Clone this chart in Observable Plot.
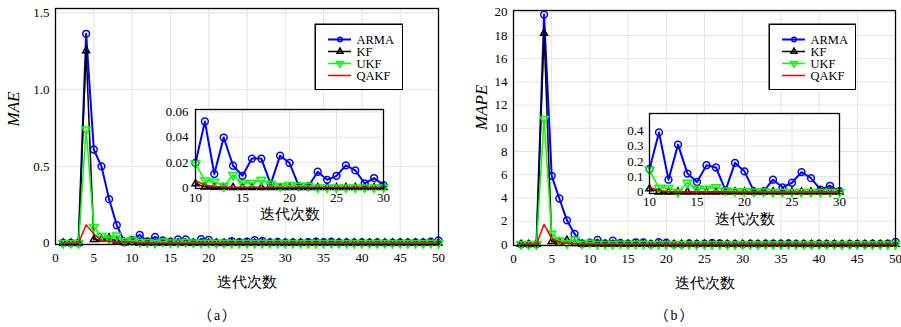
<!DOCTYPE html>
<html><head><meta charset="utf-8">
<script src="https://cdn.jsdelivr.net/npm/d3@7"></script>
<script src="https://cdn.jsdelivr.net/npm/@observablehq/plot@0.6"></script>
<style>
body{margin:0;background:#fff;}
#wrap{position:relative;width:901px;height:327px;overflow:hidden;background:#fff;}
#wrap > div{position:absolute;}
#wrap svg text{font-family:"Liberation Serif",serif;}
#wrap svg text.cjk{font-family:"Noto Sans CJK SC",sans-serif;}
.cap{font-family:"Liberation Serif","Noto Sans CJK SC",serif;font-size:14px;text-align:center;line-height:20px;letter-spacing:2px;}
</style></head><body><div id="wrap"></div>
<script>
// ---------- data ----------
const iterations = Array.from({length: 50}, (_, i) => i + 1);
const seriesNames = ["ARMA", "KF", "UKF", "QAKF"];
const xTicks = [0, 5, 10, 15, 20, 25, 30, 35, 40, 45, 50];
const insetXTicks = [10, 15, 20, 25, 30];
const maeTicks = [0, 0.5, 1.0, 1.5];
const mapeTicks = [0, 2, 4, 6, 8, 10, 12, 14, 16, 18, 20];
const maeInsetTicks = [0, 0.02, 0.04, 0.06];
const mapeInsetTicks = [0, 0.1, 0.2, 0.3, 0.4];
const xTitle = "迭代次数";

const maeARMA = [0,0,0,1.365,0.61,0.50,0.286,0.116,0.005,0.0195,
  0.0525,0.0107,0.0397,0.0173,0.0093,0.023,0.023,0.0027,0.0253,0.0195,
  0.0008,0.0008,0.0125,0.0061,0.0093,0.0176,0.0136,0.0032,0.0075,0.0019,
  0.004,0.002,0.006,0.008,0.005,0.009,0.004,0.003,0.002,0.004,
  0.002,0.003,0.001,0.002,0.003,0.002,0.004,0.003,0.008,0.017];
const maeKF = [0,0,0,1.255,0.023,0.025,0.033,0.013,0.004,0.003,
  0.0005,0.0002,0,0,0,0,0,0,0,0, 0,0,0,0,0,0,0,0,0,0,
  0,0,0,0,0,0,0,0,0,0, 0,0,0,0,0,0,0,0,0,0];
const maeUKF = [0,0,0,0.74,0.105,0.045,0.03,0.048,0.012,0.019,
  0.0056,0.0045,0.001,0.01,0.0035,0.0035,0.006,0.003,0.001,0.002,
  0.0013,0.0013,0,0,0,0,0,0,0,0, 0,0,0,0,0,0,0,0,0,0,
  0,0,0,0,0,0,0,0,0,0];
const maeQAKF = [0,0,0,0.118,0.06,0.015,0.01,0.007,0.006,0.0055,
  0.002,0.0007,0.0003,0,0,0,0,0,0,0, 0,0,0,0,0,0,0,0,0,0,
  0,0,0,0,0,0,0,0,0,0, 0,0,0,0,0,0,0,0,0,0];

const mapeARMA = [0,0,0,19.8,5.9,3.95,2.07,0.9,0.05,0.15,
  0.39,0.08,0.31,0.12,0.065,0.175,0.16,0.01,0.19,0.135,
  0.003,0.003,0.08,0.03,0.06,0.13,0.09,0.015,0.04,0.005,
  0.05,0.03,0.06,0.07,0.05,0.08,0.04,0.03,0.02,0.05,
  0.03,0.04,0.02,0.03,0.04,0.03,0.05,0.04,0.07,0.2];
const mapeKF = [0,0,0,18.2,0.25,0.2,0.35,0.08,0.02,0.02,
  0,0,0,0,0,0,0,0,0,0, 0,0,0,0,0,0,0,0,0,0,
  0,0,0,0,0,0,0,0,0,0, 0,0,0,0,0,0,0,0,0,0];
const mapeUKF = [0,0,0,10.8,0.92,0.34,0.1,0.4,0.05,0.145,
  0.025,0.025,0,0.06,0.02,0.02,0.03,0.01,0.005,0.005,
  0.003,0.003,0,0,0,0,0,0,0,0, 0,0,0,0,0,0,0,0,0,0,
  0,0,0,0,0,0,0,0,0,0];
const mapeQAKF = [0,0,0,1.72,0.55,0.15,0.1,0.06,0.04,0.03,
  0.01,0.003,0,0,0,0,0,0,0,0, 0,0,0,0,0,0,0,0,0,0,
  0,0,0,0,0,0,0,0,0,0, 0,0,0,0,0,0,0,0,0,0];

// ---------- styles ----------
const seriesStyle = {
  ARMA: {color: "#0000ff", width: 2, symbol: "circle", r: 3.4, lr: 2.2, rotate: 0},
  KF:   {color: "#000000", width: 1.5, symbol: "triangle", r: 2.6, lr: 2.2, rotate: 0},
  UKF:  {color: "#00ff00", width: 1.5, symbol: "triangle", r: 3.2, lr: 2.4, rotate: 180},
  QAKF: {color: "#ff0000", width: 1.5, symbol: null}
};
const serif = "Liberation Serif";
const cjk = "Noto Sans CJK SC";
const gridColor = "#e4e4e4";

function rowsOf(arrays, filter) {
  const out = {};
  seriesNames.forEach((s, k) => {
    out[s] = iterations.map((x, i) => ({x, y: arrays[k][i]})).filter(filter || (() => true));
  });
  return out;
}

function seriesMarks(rows) {
  const marks = [];
  for (const s of seriesNames) {
    const st = seriesStyle[s];
    marks.push(Plot.line(rows[s], {x: "x", y: "y", stroke: st.color, strokeWidth: st.width}));
    if (st.symbol) marks.push(Plot.dot(rows[s], {x: "x", y: "y", symbol: st.symbol, r: st.r,
      rotate: st.rotate, stroke: st.color, strokeWidth: 1.5, fill: "none"}));
  }
  return marks;
}

function mainChart(o) {
  return Plot.plot({
    width: o.width, height: o.height,
    marginLeft: o.ml, marginRight: o.mr, marginTop: o.mt, marginBottom: o.mb,
    style: {background: "transparent", fontFamily: serif, fontSize: "13px", color: "black"},
    x: {domain: [0, 50], label: null},
    y: {domain: o.yDomain, label: null},
    marks: [
      Plot.frame({fill: "white"}),
      Plot.gridX(xTicks, {stroke: gridColor, strokeOpacity: 1}),
      Plot.gridY(o.yTicks, {stroke: gridColor, strokeOpacity: 1}),
      Plot.axisX(xTicks, {tickSize: 0, tickPadding: 8, fontSize: 13, fontFamily: serif, label: null}),
      Plot.axisY(o.yTicks, {tickSize: 0, tickPadding: 6, fontSize: 13, fontFamily: serif, tickFormat: o.fmt, label: null}),
      ...seriesMarks(o.rows),
      Plot.frame({stroke: "black", strokeWidth: 1.3}),
      Plot.text([xTitle], {text: d => d, frameAnchor: "bottom", dy: 38, lineAnchor: "middle",
        fontSize: 15, fontFamily: cjk, className: "cjk"}),
      Plot.text([o.yTitle], {text: d => d, frameAnchor: "left", dx: o.ytDx, dy: o.ytDy || 0, rotate: -90,
        lineAnchor: "middle", fontSize: 17, fontStyle: "italic", fontFamily: serif})
    ]
  });
}

function insetChart(o) {
  return Plot.plot({
    width: o.width, height: o.height,
    marginLeft: o.ml, marginRight: o.mr, marginTop: o.mt, marginBottom: o.mb,
    style: {background: "transparent", fontFamily: serif, fontSize: "13px", color: "black"},
    x: {domain: [10, 30], label: null},
    y: {domain: o.yDomain, label: null},
    marks: [
      Plot.frame({fill: "white"}),
      Plot.gridX(insetXTicks, {stroke: gridColor, strokeOpacity: 1}),
      Plot.gridY(o.yTicks, {stroke: gridColor, strokeOpacity: 1}),
      Plot.axisX(insetXTicks, {tickSize: 0, tickPadding: o.xPad, fontSize: 13, fontFamily: serif, label: null}),
      Plot.axisY(o.yTicks, {tickSize: 0, tickPadding: o.yPad, fontSize: 13, fontFamily: serif, tickFormat: o.fmt, label: null}),
      ...seriesMarks(o.rows),
      Plot.frame({stroke: "black", strokeWidth: 1.3}),
      Plot.text([xTitle], {text: d => d, frameAnchor: "bottom", dy: 26, lineAnchor: "middle",
        fontSize: 15, fontFamily: cjk, className: "cjk"})
    ]
  });
}

function legendChart(w, h) {
  const marks = [Plot.frame({fill: "white", stroke: "black", strokeWidth: 1.5, inset: 0.75})];
  for (const s of seriesNames) {
    const st = seriesStyle[s];
    marks.push(Plot.ruleY([s], {y: d => d, x1: 0, x2: 1, stroke: st.color, strokeWidth: st.width}));
    if (st.symbol) marks.push(Plot.dot([s], {y: d => d, x: 0.5, symbol: st.symbol, r: st.lr, rotate: st.rotate,
      stroke: st.color, strokeWidth: 1.5, fill: "none"}));
  }
  marks.push(Plot.text(seriesNames, {y: d => d, x: 1, text: d => d, dx: 5, textAnchor: "start",
    fontSize: 12.5, fontFamily: serif}));
  return Plot.plot({
    width: w, height: h, margin: 0,
    style: {background: "transparent", color: "black", fontFamily: serif},
    x: {domain: [0, 1], range: [14, 37], axis: null},
    y: {type: "point", domain: seriesNames, range: [9, 58], axis: null},
    marks
  });
}

function place(node, left, top) {
  const d = document.createElement("div");
  d.style.left = left + "px"; d.style.top = top + "px";
  d.appendChild(node);
  document.getElementById("wrap").appendChild(d);
  return d;
}

const fmt1 = d => d === 0 ? "0" : d.toFixed(1);
const fmt2 = d => d === 0 ? "0" : d.toFixed(2);
const fmt0 = d => String(d);

// panel (a)
place(mainChart({width: 450, height: 300, ml: 55, mr: 12, mt: 8, mb: 56,
  yDomain: [-0.01, 1.53], yTicks: maeTicks, fmt: fmt1, yTitle: "MAE", ytDx: -42,
  rows: rowsOf([maeARMA, maeKF, maeUKF, maeQAKF])}), 0, 0);
place(insetChart({width: 244, height: 124, ml: 40, mr: 16, mt: 5, mb: 40,
  yDomain: [-0.0008, 0.062], yTicks: maeInsetTicks, fmt: fmt2, xPad: 4, yPad: 7,
  rows: rowsOf([maeARMA, maeKF, maeUKF, maeQAKF], r => r.x >= 10 && r.x <= 30)}), 155, 104);
place(legendChart(89, 67), 314, 23);

// panel (b)
place(mainChart({width: 451, height: 300, ml: 63, mr: 6, mt: 10, mb: 55,
  yDomain: [-0.1, 20.15], yTicks: mapeTicks, fmt: fmt0, yTitle: "MAPE", ytDx: -32, ytDy: 2,
  rows: rowsOf([mapeARMA, mapeKF, mapeUKF, mapeQAKF])}), 450, 0);
place(insetChart({width: 246, height: 125, ml: 40, mr: 16, mt: 5, mb: 40,
  yDomain: [-0.0105, 0.514], yTicks: mapeInsetTicks, fmt: fmt1, xPad: 3, yPad: 6,
  rows: rowsOf([mapeARMA, mapeKF, mapeUKF, mapeQAKF], r => r.x >= 10 && r.x <= 30)}), 609, 108);
place(legendChart(88, 67), 768, 23);

// captions
const ca = document.createElement("div"); ca.className = "cap"; ca.textContent = "（a）";
const capA = place(ca, 168, 306); capA.style.width = "100px";
const cb = document.createElement("div"); cb.className = "cap"; cb.textContent = "（b）";
const capB = place(cb, 625, 306); capB.style.width = "100px";
</script></body></html>
